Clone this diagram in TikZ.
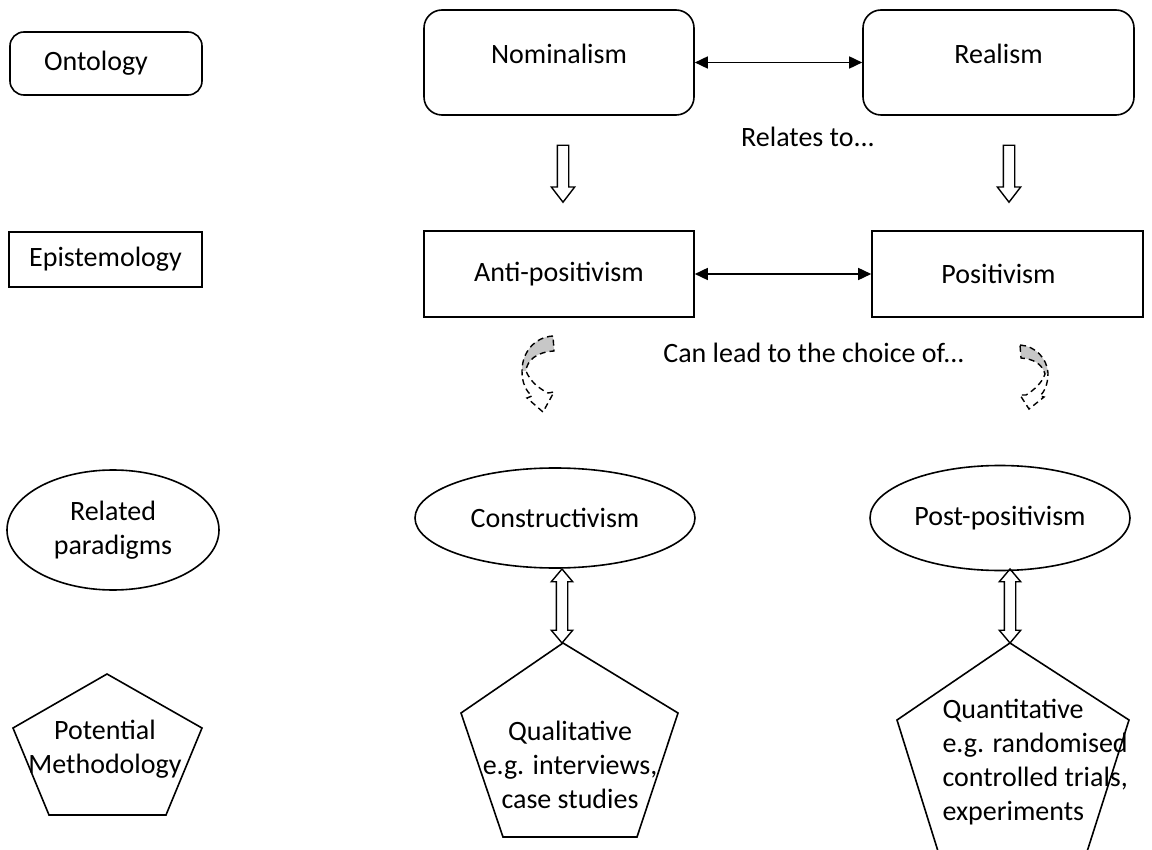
\documentclass[tikz,border=0pt]{standalone}
\usepackage{fontspec}
\setmainfont{Carlito}
\usetikzlibrary{positioning,shapes.geometric,shapes.arrows,calc,arrows.meta}

\begin{document}
\begin{tikzpicture}[x=1pt,y=-1pt]

    \tikzset{every node/.style={font=\fontsize{28}{34}\selectfont},
        roundbox/.style={draw,line width=1.6pt,rounded corners=14pt,inner sep=0pt},
        plainbox/.style={draw,line width=1.6pt,inner sep=0pt},
        ovalbox/.style={draw,ellipse,line width=1.6pt,inner sep=0pt},
        raised/.style={text depth=18pt},
        downarr/.style={draw,single arrow,line width=1.4pt,shape border rotate=270,
            inner sep=5pt,minimum width=22pt,single arrow head extend=6pt,
            single arrow tip angle=75,minimum height=57pt},
        dblarr/.style={draw,double arrow,line width=1.4pt,shape border rotate=90,
            inner sep=5pt,minimum width=20pt,double arrow head extend=5pt,
            double arrow tip angle=80,minimum height=74pt},
        biarrow/.style={line width=1.6pt,{Triangle[length=13pt,width=12pt]}-{Triangle[length=13pt,width=12pt]}},
        penta/.style={draw,line width=1.6pt,line join=miter},
        curvy/.style={line width=1.4pt,dash pattern=on 6pt off 4pt}}

    \useasboundingbox (0,0) rectangle (1152,850);

    % left column
    \node[roundbox,minimum width=192pt,minimum height=63pt] (onto) at (106,63.5) {\hspace*{-20pt}Ontology};
    \node[plainbox,minimum width=193pt,minimum height=55pt] (epis) at (105.5,259.5) {Epistemology};
    \node[ovalbox,minimum width=212pt,minimum height=120pt,align=center] (relp) at (113,530) {Related\\paradigms};
    \node (potm) at (105,749) [align=center] {Potential\\Methodology};

    % top rows
    \node[roundbox,rounded corners=18pt,raised,minimum width=270pt,minimum height=105pt] (nomi) at (559,62.5) {Nominalism};
    \node[roundbox,rounded corners=18pt,raised,minimum width=271pt,minimum height=105pt] (real) at (998.5,62.5) {Realism};
    \node[plainbox,minimum width=270pt,minimum height=86pt] (anti) at (559,274) {Anti-positivism};
    \node[plainbox,minimum width=271pt,minimum height=86pt] (posi) at (1007.5,274) {\hspace*{-18pt}Positivism};

    \draw[biarrow] (nomi) -- (real);
    \draw[biarrow] (anti) -- (posi);

    \node (rel) at (808,137) {Relates to...};
    \node[downarr] (dn1) at (563,170) {};
    \node[downarr] (dn2) at (1009,170) {};

    \node (lead) at (814,353) {Can lead to the choice of...};

    % curved arrows
    \fill[black!22] (553,336) .. controls (535,337) and (522,352) .. (522,371)
        -- (526,371) .. controls (527,360) and (537,352) .. (554,351) -- cycle;
    \draw[curvy] (553,336) .. controls (535,337) and (522,352) .. (522,371)
        .. controls (522,383) and (526,391) .. (532,396) -- (527,398) -- (543,412)
        -- (554,392) -- (548,393) .. controls (538,388) and (530,381) .. (526,371)
        .. controls (527,360) and (537,352) .. (554,351) -- cycle;
    \fill[black!22] (1020,345) .. controls (1035,346) and (1047,358) .. (1048,373)
        -- (1045,374) .. controls (1042,364) and (1034,359) .. (1021,358) -- cycle;
    \draw[curvy] (1020,345) .. controls (1035,346) and (1047,358) .. (1048,373)
        .. controls (1048,385) and (1044,392) .. (1040,396) -- (1044,397) -- (1029,409)
        -- (1020,395) -- (1026,395) .. controls (1034,390) and (1042,383) .. (1045,374)
        .. controls (1042,364) and (1034,359) .. (1021,358) -- cycle;

    % paradigms
    \node[ovalbox,minimum width=280pt,minimum height=100pt] (cons) at (555,518) {Constructivism};
    \node[ovalbox,minimum width=260pt,minimum height=105pt] (post) at (1000,518) {Post-positivism};

    \node[dblarr] (dbl1) at (562,606) {};
    \node[dblarr] (dbl2) at (1010,606) {};

    % methodologies
    \draw[penta] (107,674) -- (202,728) -- (166,815) -- (49,815) -- (13,728) -- cycle;
    \draw[penta] (563,643) -- (678,713) -- (637,837) -- (503,837) -- (461,713) -- cycle;
    \draw[penta] (1010,643) -- (1129,720) -- (1078,880) -- (947,880) -- (897,720) -- cycle;

    \node (qual) at (570,765) [align=center] {Qualitative\\ e.g. interviews,\\ case studies};
    \node (quan) at (939,762) [anchor=west,align=left] {Quantitative\\e.g. randomised\\controlled trials,\\experiments};

\end{tikzpicture}
\end{document}
